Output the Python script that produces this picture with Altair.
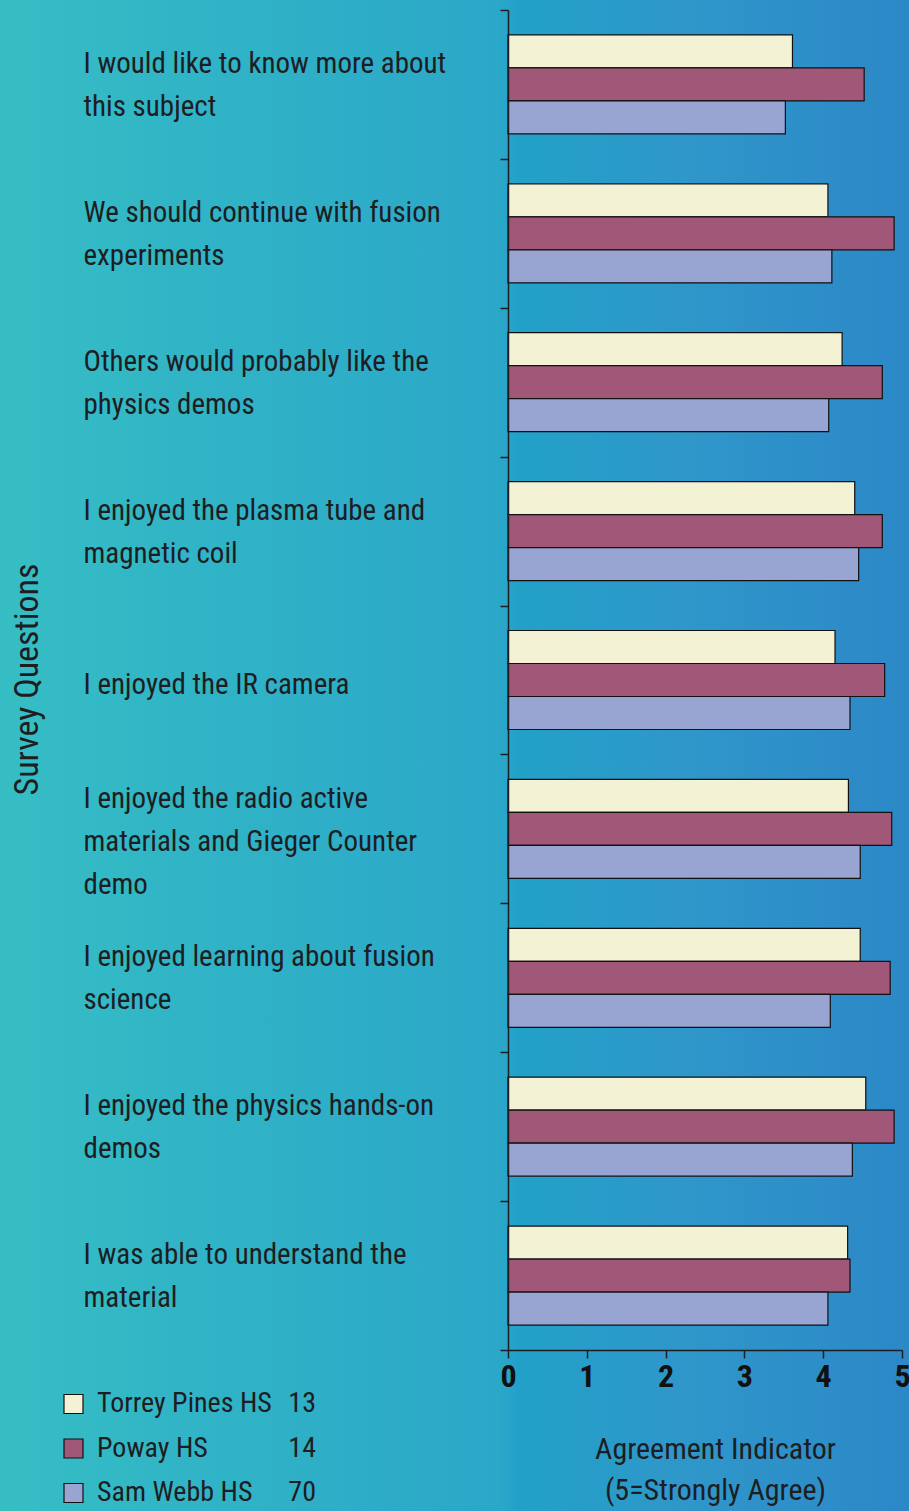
import altair as alt
import pandas as pd

questions = [
    "I would like to know more about|this subject",
    "We should continue with fusion|experiments",
    "Others would probably like the|physics demos",
    "I enjoyed the plasma tube and|magnetic coil",
    "I enjoyed the IR camera",
    "I enjoyed the radio active|materials and Gieger Counter|demo",
    "I enjoyed learning about fusion|science",
    "I enjoyed the physics hands-on|demos",
    "I was able to understand the|material",
]
schools = ["Torrey Pines HS", "Poway HS", "Sam Webb HS"]
counts = [13, 14, 70]
colors = ["#f3f2d4", "#a15778", "#98a5d3"]

torrey = [3.61, 4.06, 4.24, 4.40, 4.15, 4.32, 4.47, 4.54, 4.31]
poway = [4.52, 4.90, 4.75, 4.75, 4.78, 4.87, 4.85, 4.90, 4.34]
samwebb = [3.52, 4.11, 4.07, 4.45, 4.34, 4.47, 4.09, 4.37, 4.06]

rows = []
for school, vals in zip(schools, [torrey, poway, samwebb]):
    for q, v in zip(questions, vals):
        rows.append({"question": q, "school": school, "value": v})
df = pd.DataFrame(rows)
legend_df = pd.DataFrame({"school": schools, "n": counts})

FONT = "Roboto Condensed, DejaVu Sans Condensed, sans-serif"
INK = "#1d1d22"

W, H = 394, 1340
PAD_L, PAD_T = 508, 10

bg = alt.Chart(pd.DataFrame({"a": [0]})).mark_rect(
    fill=alt.LinearGradient(
        gradient="linear",
        stops=[
            alt.GradientStop(offset=0.0, color="#37bec4"),
            alt.GradientStop(offset=0.19, color="#31b5c6"),
            alt.GradientStop(offset=0.55, color="#2ba7c8"),
            alt.GradientStop(offset=0.57, color="#22a1c8"),
            alt.GradientStop(offset=0.75, color="#2f97ca"),
            alt.GradientStop(offset=1.0, color="#2c88c7"),
        ],
        x1=0, x2=1, y1=0, y2=0,
    ),
    stroke=None,
).encode(
    x=alt.value(-PAD_L), x2=alt.value(909 - PAD_L),
    y=alt.value(-PAD_T), y2=alt.value(1511 - PAD_T),
)

color_scale = alt.Scale(domain=schools, range=colors)

label_offset = {
    "condition": [
        {"test": "length(split(datum.label, '|')) == 3", "value": -30},
        {"test": "length(split(datum.label, '|')) == 2", "value": -21},
    ],
    "value": 4,
}

bars = alt.Chart(df).mark_bar(stroke="#111111", strokeWidth=1.2).encode(
    x=alt.X(
        "value:Q",
        scale=alt.Scale(domain=[0, 5], nice=False),
        axis=alt.Axis(
            values=[0, 1, 2, 3, 4, 5], format="d", grid=False, zindex=1,
            domainColor=INK, domainWidth=1.5, tickColor=INK, tickSize=8, tickWidth=1.5,
            labelFont=FONT, labelFontSize=32, labelFontWeight="bold", labelColor="#111111",
            labelPadding=3, labelBaseline="top", labelFlush=False,
            title=["Agreement Indicator", "(5=Strongly Agree)"],
            titleFont=FONT, titleFontSize=30, titleFontWeight="normal", titleColor=INK,
            titleLineHeight=41, titleBaseline="middle", titleAlign="center",
            titleX=207, titleY=99, titleAnchor="start",
        ),
    ),
    y=alt.Y(
        "question:N", sort=questions,
        scale=alt.Scale(paddingInner=0, paddingOuter=0),
        axis=alt.Axis(
            labelExpr="split(datum.label, '|')", zindex=1,
            labelAlign="left", labelBaseline="middle", labelPadding=417,
            labelOffset=label_offset,
            labelFont=FONT, labelFontSize=29, labelLineHeight=43, labelColor=INK,
            labelLimit=0, labelBound=False,
            tickBand="extent", tickSize=8, tickColor=INK, tickWidth=1.5,
            domainColor=INK, domainWidth=1.5, grid=False,
            title="Survey Questions", titleFont=FONT, titleFontSize=34,
            titleFontWeight="normal", titleColor=INK, titleAngle=270,
            titleBaseline="middle", titleAlign="center",
            titleX=-481, titleY=669, titleAnchor="start",
        ),
    ),
    yOffset=alt.YOffset(
        "school:N", sort=schools,
        scale=alt.Scale(paddingInner=0, paddingOuter=0.756),
    ),
    color=alt.Color("school:N", scale=color_scale, legend=None),
)

leg_y = alt.Y(
    "school:N", sort=schools,
    scale=alt.Scale(type="point", domain=schools, range=[1394, 1483], padding=0),
    axis=None,
)

leg_sq = alt.Chart(legend_df).mark_square(
    size=361, opacity=1, stroke="#111111", strokeWidth=1.2
).encode(
    x=alt.value(73.5 - PAD_L),
    y=leg_y,
    fill=alt.Fill("school:N", scale=color_scale, legend=None),
)

leg_names = alt.Chart(legend_df).mark_text(
    align="left", baseline="middle", font=FONT, fontSize=28, color=INK
).encode(
    x=alt.value(97 - PAD_L),
    y=leg_y,
    text="school:N",
)

leg_counts = alt.Chart(legend_df).mark_text(
    align="right", baseline="middle", font=FONT, fontSize=28, color=INK
).encode(
    x=alt.value(316 - PAD_L),
    y=leg_y,
    text="n:Q",
)

legend_layer = alt.layer(leg_sq, leg_names, leg_counts)

chart = alt.layer(bg, bars, legend_layer).resolve_scale(
    y="independent"
).properties(
    width=W, height=H,
    autosize=alt.AutoSizeParams(type="none"),
    padding={"left": PAD_L, "top": PAD_T, "right": 909 - PAD_L - W, "bottom": 1511 - PAD_T - H},
).configure(
    background="#2aa7c8",
).configure_view(
    stroke=None,
)

chart.save("out.html", embed_options={"renderer": "svg", "actions": False})
